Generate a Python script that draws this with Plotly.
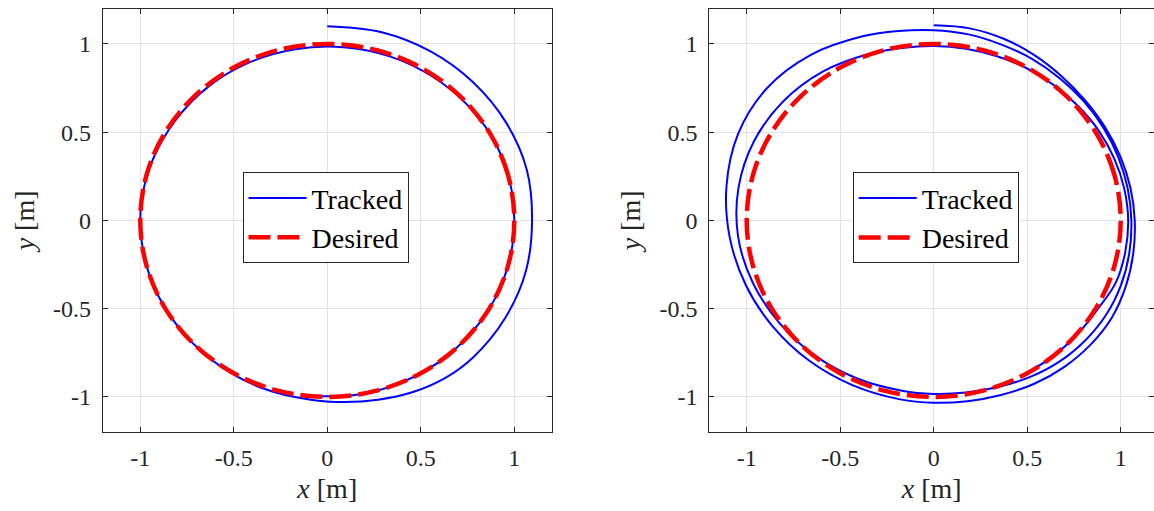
import plotly.graph_objects as go

# ---------------- data ----------------
# Desired trajectory: unit circle
desired_x = [1.0, 0.966, 0.866, 0.707, 0.5, 0.259, 0.0, -0.259, -0.5, -0.707, -0.866, -0.966,
             -1.0, -0.966, -0.866, -0.707, -0.5, -0.259, 0.0, 0.259, 0.5, 0.707, 0.866, 0.966, 1.0]
desired_y = [0.0, 0.259, 0.5, 0.707, 0.866, 0.966, 1.0, 0.966, 0.866, 0.707, 0.5, 0.259,
             0.0, -0.259, -0.5, -0.707, -0.866, -0.966, -1.0, -0.966, -0.866, -0.707, -0.5, -0.259, 0.0]

# Left panel: tracked trajectory (clockwise, starting at the top)
left_tracked_x = [0.0, 0.286, 0.5525, 0.781, 0.957, 1.067, 1.095, 1.0625, 0.953, 0.778, 0.627,
                  0.454, 0.272, 0.090, -0.0889, -0.346, -0.576, -0.766, -0.906, -0.985, -0.996,
                  -0.935, -0.811, -0.636, -0.417, -0.171, 0.086, 0.338, 0.568, 0.762, 0.906,
                  0.985, 0.996, 0.940, 0.819, 0.643, 0.423, 0.174, -0.087]
left_tracked_y = [1.10, 1.067, 0.957, 0.781, 0.5525, 0.286, 0.0, -0.285, -0.55, -0.778, -0.895,
                  -0.974, -1.016, -1.029, -1.016, -0.951, -0.823, -0.643, -0.423, -0.174, 0.087,
                  0.340, 0.568, 0.758, 0.895, 0.970, 0.981, 0.928, 0.811, 0.640, 0.423,
                  0.174, -0.087, -0.342, -0.574, -0.766, -0.906, -0.985, -0.996]

# Right panel: tracked trajectory (clockwise, starting at the top, about 2.5 laps)
right_tracked_x = [0.0, 0.192, 0.3745, 0.54, 0.685, 0.810, 0.916, 0.998, 1.052, 1.075, 1.067,
                   1.027, 0.953, 0.839, 0.697, 0.535, 0.36, 0.1806, 0.0, -0.179, -0.435, -0.667,
                   -0.860, -1.005, -1.091, -1.108, -1.047, -0.892, -0.657, -0.380, -0.189, 0.0,
                   0.186, 0.3625, 0.5275, 0.675, 0.803, 0.908, 0.987, 1.037, 1.057, 1.046, 1.002,
                   0.923, 0.810, 0.672, 0.5125, 0.344, 0.172, 0.0, -0.170, -0.416, -0.640, -0.827,
                   -0.968, -1.046, -1.044, -0.961, -0.804, -0.591, -0.344, -0.172, 0.0,
                   0.1716, 0.3386, 0.4975, 0.643, 0.772, 0.882, 0.965, 1.019, 1.04, 1.024, 0.973,
                   0.875, 0.768, 0.643, 0.499]
right_tracked_y = [1.105, 1.088, 1.029, 0.935, 0.816, 0.680, 0.529, 0.363, 0.185, 0.0, -0.188,
                   -0.374, -0.55, -0.704, -0.831, -0.927, -0.989, -1.024, -1.033, -1.014, -0.933,
                   -0.794, -0.602, -0.366, -0.095, 0.195, 0.488, 0.749, 0.938, 1.043, 1.073, 1.078,
                   1.054, 0.996, 0.914, 0.804, 0.674, 0.524, 0.359, 0.183, 0.0, -0.184, -0.365,
                   -0.533, -0.680, -0.800, -0.888, -0.944, -0.975, -0.983, -0.965, -0.893, -0.762,
                   -0.579, -0.352, -0.092, 0.184, 0.448, 0.675, 0.844, 0.944, 0.977, 0.988,
                   0.973, 0.930, 0.862, 0.766, 0.648, 0.509, 0.351, 0.180, 0.0, -0.181, -0.354,
                   -0.505, -0.645, -0.766, -0.864]

tick_vals = [-1, -0.5, 0, 0.5, 1]
tick_text = ["-1", "-0.5", "0", "0.5", "1"]

# ---------------- styling ----------------
W, H = 1154, 511
FONT = "Liberation Serif, Times New Roman, serif"
DARK = "#262626"
GRID = "#e3e3e3"
BLUE = "#0000ff"
RED = "#ff0000"

fig = go.Figure()

def add_panel(xa, ya, tx, ty, legend_name):
    fig.add_trace(go.Scatter(x=tx, y=ty, mode="lines", name="Tracked",
                             line=dict(color=BLUE, width=2, shape="spline", smoothing=1.0),
                             xaxis=xa, yaxis=ya, legend=legend_name))
    fig.add_trace(go.Scatter(x=desired_x, y=desired_y, mode="lines", name="Desired",
                             line=dict(color=RED, width=4.5, dash="22px,7px", shape="spline", smoothing=1.0),
                             xaxis=xa, yaxis=ya, legend=legend_name))

add_panel("x", "y", left_tracked_x, left_tracked_y, "legend")
add_panel("x2", "y2", right_tracked_x, right_tracked_y, "legend2")

ydom = [1 - 432.2 / H, 1 - 8.6 / H]
left_dom = [102.9 / W, 551.7 / W]
right_dom = [709.3 / W, 1.0]

axis_common = dict(
    showline=True, linecolor=DARK, linewidth=1, mirror="ticks",
    ticks="inside", ticklen=5, tickcolor=DARK, tickwidth=1,
    showgrid=True, gridcolor=GRID, gridwidth=1, zeroline=False,
    tickvals=tick_vals, ticktext=tick_text,
    tickfont=dict(family=FONT, size=24, color=DARK),
    title_font=dict(family=FONT, size=28, color=DARK),
)

legend_common = dict(
    xanchor="center", yanchor="middle",
    bgcolor="white", bordercolor=DARK, borderwidth=1,
    font=dict(family=FONT, size=28, color="black"),
    tracegroupgap=0, itemwidth=58,
)

fig.update_layout(
    width=W, height=H,
    margin=dict(l=0, r=0, t=0, b=0),
    paper_bgcolor="white", plot_bgcolor="white",
    xaxis=dict(domain=left_dom, range=[-1.2, 1.2], anchor="y",
               title=dict(text="<i>x</i> [m]", standoff=8), ticklabelstandoff=4, **axis_common),
    yaxis=dict(domain=ydom, range=[-1.2, 1.2], anchor="x",
               title=dict(text="<i>y</i> [m]", standoff=10), ticklabelstandoff=6, **axis_common),
    xaxis2=dict(domain=right_dom, range=[-1.2, 1.178], anchor="y2",
                title=dict(text="<i>x</i> [m]", standoff=8), ticklabelstandoff=4, **axis_common),
    yaxis2=dict(domain=ydom, range=[-1.2, 1.2], anchor="x2",
                title=dict(text="<i>y</i> [m]", standoff=10), ticklabelstandoff=6, **axis_common),
    legend=dict(x=325.5 / W, y=1 - 217.7 / H, **legend_common),
    legend2=dict(x=935.7 / W, y=1 - 217.9 / H, **legend_common),
    showlegend=True,
)

fig.write_html("out.html")
